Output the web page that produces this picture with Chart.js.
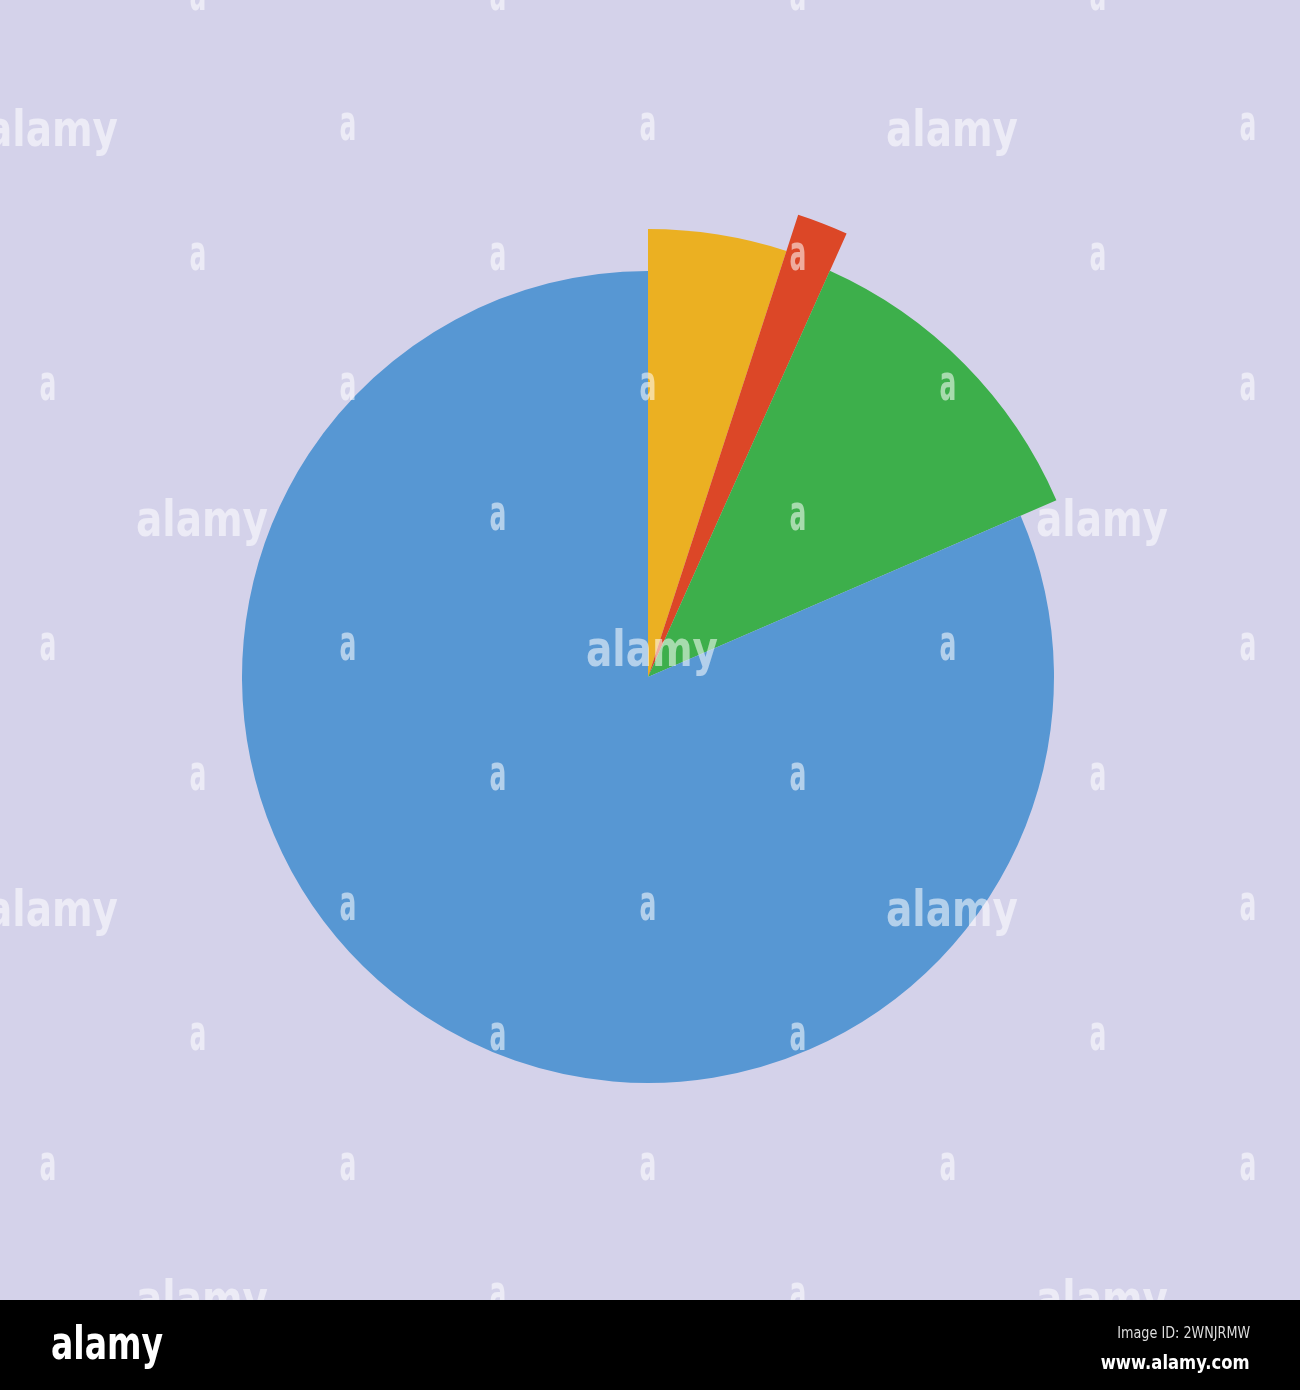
<!DOCTYPE html>
<html>
<head>
<meta charset="utf-8">
<script src="https://cdn.jsdelivr.net/npm/chart.js@4"></script>
<style>
  html, body { margin: 0; padding: 0; }
  body { width: 1300px; height: 1390px; position: relative; overflow: hidden; background: #000; font-family: "DejaVu Sans", sans-serif; }
  #stage { position: absolute; left: 0; top: 0; width: 1300px; height: 1300px; background: #d4d2ea; overflow: hidden; }
  #wrap { position: absolute; left: 148px; top: 177px; width: 1000px; height: 1000px; }
  #wm { position: absolute; left: 0; top: 0; width: 1300px; height: 1300px; pointer-events: none; }
  .w { position: absolute; color: rgba(255,255,255,0.55); font-weight: bold; font-size: 50px; line-height: 1; white-space: nowrap; }
  .w.one { transform: translate(-50%, -50%) scaleX(0.5); }
  .w.word { transform: translate(-50%, -50%) scaleX(0.78); }
  #bar { position: absolute; left: 0; top: 1300px; width: 1300px; height: 90px; background: #000; color: #fff; }
  #logo { position: absolute; left: 51px; top: 20px; font-size: 46px; line-height: 1; font-weight: bold; transform: scaleX(0.72); transform-origin: left top; }
  #imgid { position: absolute; right: 50px; top: 23px; font-size: 16px; color: #ddd; transform: scaleX(0.8); transform-origin: right top; }
  #site { position: absolute; right: 50px; top: 50px; font-size: 20px; font-weight: bold; transform: scaleX(0.82); transform-origin: right top; }
</style>
</head>
<body>
<div id="stage">
  <div id="wrap"><canvas id="c"></canvas></div>
  <div id="wm"></div>
</div>
<div id="bar">
  <div id="logo">alamy</div>
  <div id="imgid">Image ID: 2WNJRMW</div>
  <div id="site">www.alamy.com</div>
</div>
<script>
// ---- data ----
const categories = ["A", "B", "C", "D"];
const values = [5.0, 1.7, 11.8, 81.5];
// ---- styles ----
const sliceColors = ["#ebb022", "#dc4727", "#3daf4b", "#5797d3"];
const sliceRadiusRatio = [448 / 486, 1, 445 / 486, 406 / 486];

const varRadius = {
  id: 'varRadius',
  afterDatasetUpdate(chart, args) {
    const meta = args.meta;
    const base = meta.controller.outerRadius;
    meta.data.forEach((el, i) => { el.outerRadius = base * sliceRadiusRatio[i]; });
  }
};

new Chart(document.getElementById('c'), {
  type: 'pie',
  data: {
    labels: categories,
    datasets: [{
      data: values,
      backgroundColor: sliceColors,
      borderWidth: 0,
      radius: 486
    }]
  },
  options: {
    responsive: true,
    maintainAspectRatio: false,
    animation: false,
    events: [],
    layout: { padding: 0 },
    plugins: { legend: { display: false }, tooltip: { enabled: false } }
  },
  plugins: [varRadius]
});

// ---- watermark overlay ----
const wm = document.getElementById('wm');
const rowsY = [-3, 127, 257, 387, 517, 647, 777, 907, 1037, 1167, 1297];
const words = { "127_48": 1, "127_948": 1, "907_48": 1, "907_948": 1, "517_198": 1, "517_1098": 1, "1297_198": 1, "1297_1098": 1, "647_648": 1 };
rowsY.forEach((y, r) => {
  const xs = r % 2 === 0 ? [198, 498, 798, 1098] : [48, 348, 648, 948, 1248];
  xs.forEach(x => {
    const s = document.createElement('span');
    const isWord = words[y + "_" + x];
    s.className = 'w ' + (isWord ? 'word' : 'one');
    s.textContent = isWord ? 'alamy' : 'a';
    s.style.left = (isWord ? x + 4 : x) + 'px';
    s.style.top = (isWord ? y + 2 : y - 4) + 'px';
    wm.appendChild(s);
  });
});
</script>
</body>
</html>
